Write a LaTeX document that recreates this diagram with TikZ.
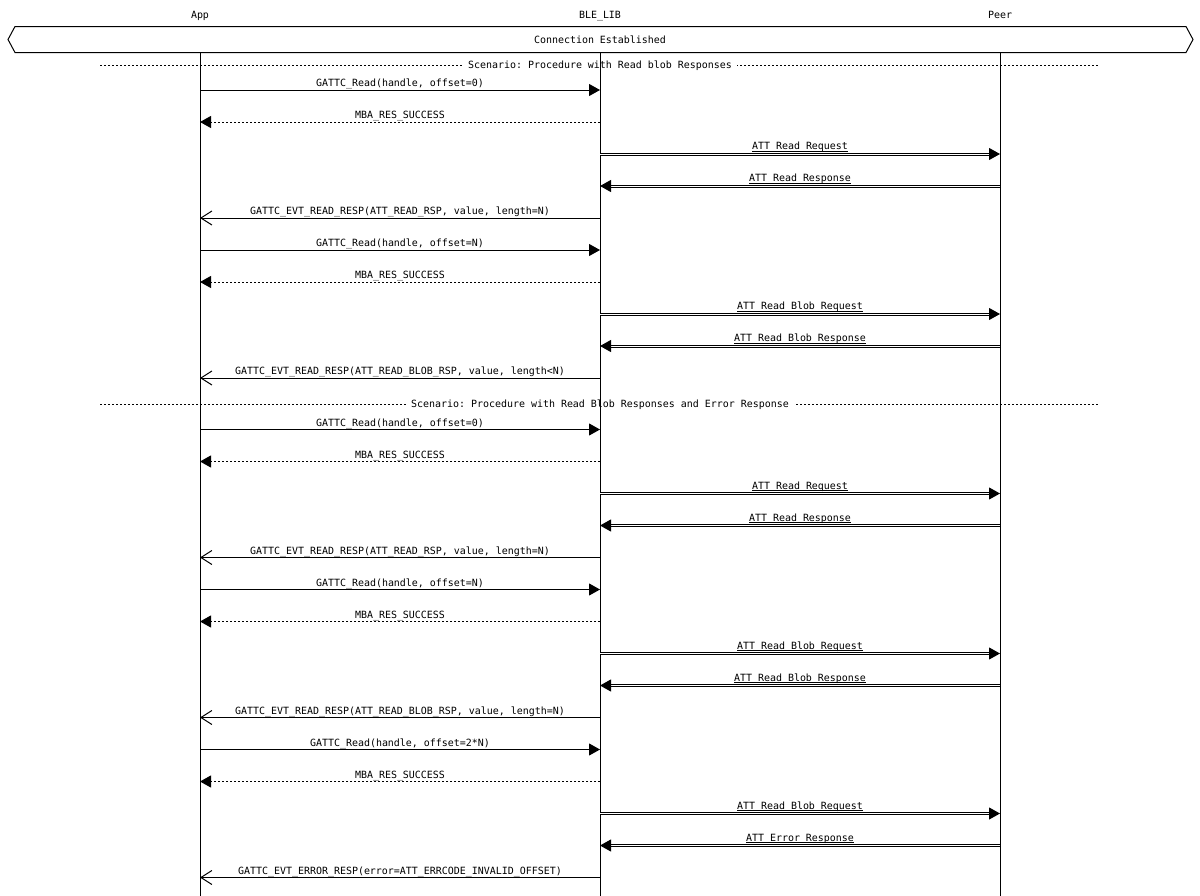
\documentclass[tikz,border=0pt]{standalone}
\usepackage{fontspec}
\setmonofont{DejaVu Sans Mono}
\usetikzlibrary{arrows.meta,calc}

\begin{document}
\begin{tikzpicture}[x=1bp,y=-1bp,
    font=\ttfamily\fontsize{10}{12}\selectfont,
    lifeline/.style={line width=1bp},
    call/.style={line width=1bp,-{Triangle[length=11bp,width=12bp]}},
    reply/.style={line width=1bp,dash pattern=on 2bp off 2bp,-{Triangle[length=11bp,width=12bp]}},
    event/.style={line width=1bp,-{Straight Barb[length=11bp,width=14bp]}},
    radio/.style={line width=1bp,double distance=1bp,-{Triangle[length=11bp,width=12bp]}},
    sep/.style={line width=1bp,dash pattern=on 2bp off 2bp},
    lbl/.style={midway,anchor=base,yshift=#1,inner sep=0pt},
    lbl/.default=3.5bp,
    seplbl/.style={midway,anchor=base,yshift=-3.5bp,fill=white,inner xsep=5bp,inner ysep=3bp}]
    \useasboundingbox (0,0) rectangle (1200,896);

    \node [anchor=base] (app) at (200,18) {App};
    \node [anchor=base] (lib) at (600,18) {BLE\_LIB};
    \node [anchor=base] (peer) at (1000,18) {Peer};

    \draw [line width=1bp] (15,26.5) -- (1186,26.5) -- (1193,39.5) -- (1186,52.5) -- (15,52.5) -- (8,39.5) -- cycle;
    \node [anchor=base] (conn) at (600,43.5) {Connection Established};

    \coordinate (top) at (0,52.5);
    \coordinate (bot) at (0,896);
    \coordinate (west) at (100,0);
    \coordinate (east) at (1100,0);
    \coordinate (s1) at (0,65);
    \coordinate (s2) at (0,404);
    \foreach \i in {1,...,10}
        \coordinate (r\i) at (0,{90+32*(\i-1)});
    \foreach \i in {11,...,25}
        \coordinate (r\i) at (0,{429.5+32*(\i-11)});

    \draw [sep] (west |- s1) -- node [seplbl] {Scenario: Procedure with Read blob Responses} (east |- s1);
    \draw [sep] (west |- s2) -- node [seplbl] {Scenario: Procedure with Read Blob Responses and Error Response} (east |- s2);

    \draw [lifeline] (app |- top) -- (app |- bot);
    \draw [lifeline] (lib |- top) -- (lib |- bot);
    \draw [lifeline] (peer |- top) -- (peer |- bot);

    \draw [call] (app |- r1) -- node [lbl] {GATTC\_Read(handle, offset=0)} (lib |- r1);
    \draw [reply] (lib |- r2) -- node [lbl] {MBA\_RES\_SUCCESS} (app |- r2);
    \draw [radio] (lib |- r3) -- node [lbl=4.5bp] {\underline{\smash{ATT Read Request}}} (peer |- r3);
    \draw [radio] (peer |- r4) -- node [lbl=4.5bp] {\underline{\smash{ATT Read Response}}} (lib |- r4);
    \draw [event] (lib |- r5) -- node [lbl] {GATTC\_EVT\_READ\_RESP(ATT\_READ\_RSP, value, length=N)} (app |- r5);
    \draw [call] (app |- r6) -- node [lbl] {GATTC\_Read(handle, offset=N)} (lib |- r6);
    \draw [reply] (lib |- r7) -- node [lbl] {MBA\_RES\_SUCCESS} (app |- r7);
    \draw [radio] (lib |- r8) -- node [lbl=4.5bp] {\underline{\smash{ATT Read Blob Request}}} (peer |- r8);
    \draw [radio] (peer |- r9) -- node [lbl=4.5bp] {\underline{\smash{ATT Read Blob Response}}} (lib |- r9);
    \draw [event] (lib |- r10) -- node [lbl] {GATTC\_EVT\_READ\_RESP(ATT\_READ\_BLOB\_RSP, value, length<N)} (app |- r10);

    \draw [call] (app |- r11) -- node [lbl] {GATTC\_Read(handle, offset=0)} (lib |- r11);
    \draw [reply] (lib |- r12) -- node [lbl] {MBA\_RES\_SUCCESS} (app |- r12);
    \draw [radio] (lib |- r13) -- node [lbl=4.5bp] {\underline{\smash{ATT Read Request}}} (peer |- r13);
    \draw [radio] (peer |- r14) -- node [lbl=4.5bp] {\underline{\smash{ATT Read Response}}} (lib |- r14);
    \draw [event] (lib |- r15) -- node [lbl] {GATTC\_EVT\_READ\_RESP(ATT\_READ\_RSP, value, length=N)} (app |- r15);
    \draw [call] (app |- r16) -- node [lbl] {GATTC\_Read(handle, offset=N)} (lib |- r16);
    \draw [reply] (lib |- r17) -- node [lbl] {MBA\_RES\_SUCCESS} (app |- r17);
    \draw [radio] (lib |- r18) -- node [lbl=4.5bp] {\underline{\smash{ATT Read Blob Request}}} (peer |- r18);
    \draw [radio] (peer |- r19) -- node [lbl=4.5bp] {\underline{\smash{ATT Read Blob Response}}} (lib |- r19);
    \draw [event] (lib |- r20) -- node [lbl] {GATTC\_EVT\_READ\_RESP(ATT\_READ\_BLOB\_RSP, value, length=N)} (app |- r20);
    \draw [call] (app |- r21) -- node [lbl] {GATTC\_Read(handle, offset=2*N)} (lib |- r21);
    \draw [reply] (lib |- r22) -- node [lbl] {MBA\_RES\_SUCCESS} (app |- r22);
    \draw [radio] (lib |- r23) -- node [lbl=4.5bp] {\underline{\smash{ATT Read Blob Request}}} (peer |- r23);
    \draw [radio] (peer |- r24) -- node [lbl=4.5bp] {\underline{\smash{ATT Error Response}}} (lib |- r24);
    \draw [event] (lib |- r25) -- node [lbl] {GATTC\_EVT\_ERROR\_RESP(error=ATT\_ERRCODE\_INVALID\_OFFSET)} (app |- r25);
\end{tikzpicture}
\end{document}
